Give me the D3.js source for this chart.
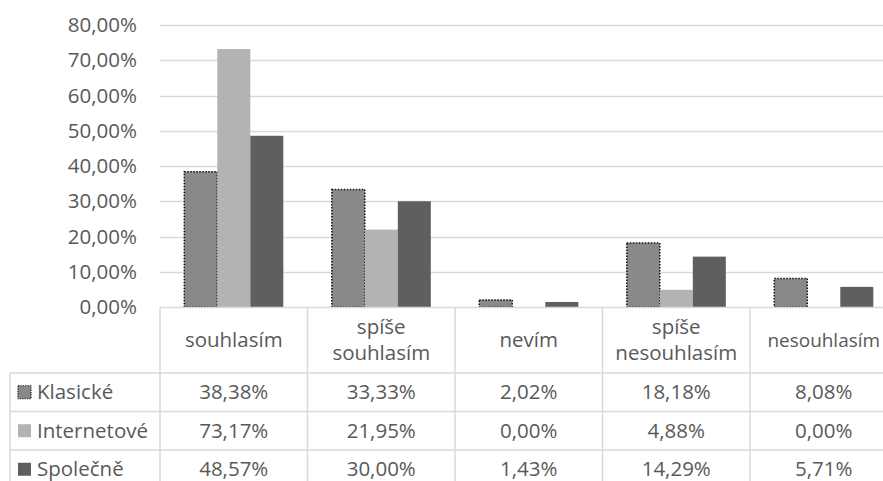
<!DOCTYPE html>
<html>
<head>
<meta charset="utf-8">
<script src="https://cdn.jsdelivr.net/npm/d3@7/dist/d3.min.js"></script>
<style>
  html, body { margin: 0; padding: 0; background: #fff; }
  svg { display: block; }
  text { font-family: "Open Sans", sans-serif; fill: #595959; }
</style>
</head>
<body>
<svg id="chart" width="883" height="481"></svg>
<script>
// Answer categories (two-line ones split with "\n")
const categories = ["souhlasím", "spíše\nsouhlasím", "nevím", "spíše\nnesouhlasím", "nesouhlasím"];
// Series names
const seriesNames = ["Klasické", "Internetové", "Společně"];
// Series values in percent
const klasicke = [38.38, 33.33, 2.02, 18.18, 8.08];
const internetove = [73.17, 21.95, 0.00, 4.88, 0.00];
const spolecne = [48.57, 30.00, 1.43, 14.29, 5.71];
// Y axis ticks in percent
const yTicks = [0, 10, 20, 30, 40, 50, 60, 70, 80];

const seriesValues = [klasicke, internetove, spolecne];
const seriesColors = ["#898989", "#b3b3b3", "#5f5f5f"];

const cz = d3.formatLocale({ decimal: ",", thousands: "\u00a0", grouping: [3], currency: ["", " Kč"] });
const pct = v => cz.format(".2%")(v / 100);

const W = 883;
const svg = d3.select("#chart");
const plotLeft = 160, plotRight = 897.5, plotTop = 25, plotBottom = 307;
const tableLeft = 10;
const rowLines = [373, 411.5, 450, 488.5];
const fs = 20.5;
const font = "'Open Sans', sans-serif";

const x = d3.scaleBand().domain(categories).range([plotLeft, plotRight]);
// three adjacent bars centred in each category band
const xs = d3.scaleBand().domain(seriesNames).range([24.3, 24.3 + 99]);

const y = d3.scaleLinear().domain([0, 80]).range([plotBottom, plotTop]);

// gridlines
svg.append("g").selectAll("line").data(yTicks.filter(t => t > 0)).join("line")
  .attr("x1", plotLeft).attr("x2", W)
  .attr("y1", d => Math.round(y(d)) + 0.5).attr("y2", d => Math.round(y(d)) + 0.5)
  .attr("stroke", "#d9d9d9").attr("stroke-width", 1.5);

// y axis labels
const yAxis = d3.axisLeft(y).tickValues(yTicks).tickFormat(pct).tickSize(0).tickPadding(0);
const gy = svg.append("g").attr("transform", "translate(137,0)").call(yAxis);
gy.select(".domain").remove();
gy.selectAll("text").attr("font-size", fs).attr("fill", "#595959")
  .attr("font-family", font);

// bars
const bars = svg.append("g");
seriesValues.forEach((vals, si) => {
  bars.append("g").selectAll("rect").data(vals.map((v, i) => ({ v, c: categories[i] }))).join("rect")
    .attr("x", d => x(d.c) + xs(seriesNames[si]))
    .attr("width", xs.bandwidth())
    .attr("y", d => y(d.v))
    .attr("height", d => plotBottom - y(d.v))
    .attr("fill", seriesColors[si])
    .attr("stroke", si === 0 ? "#111" : "none")
    .attr("stroke-width", si === 0 ? 1.5 : 0)
    .attr("stroke-dasharray", si === 0 ? "1.5,1.5" : null)
    .style("display", d => d.v > 0 ? null : "none");
});

// data table lines
const tbl = svg.append("g").attr("stroke", "#d9d9d9").attr("stroke-width", 1.5);
tbl.append("line").attr("x1", plotLeft).attr("x2", W).attr("y1", plotBottom + 0.5).attr("y2", plotBottom + 0.5);
rowLines.forEach(r => tbl.append("line").attr("x1", tableLeft).attr("x2", W).attr("y1", r).attr("y2", r));
tbl.append("line").attr("x1", tableLeft).attr("x2", tableLeft).attr("y1", rowLines[0]).attr("y2", 481);
categories.forEach(c => {
  tbl.append("line").attr("x1", x(c)).attr("x2", x(c)).attr("y1", plotBottom).attr("y2", 481);
});

// category headers
const hdr = svg.append("g");
categories.forEach(c => {
  const lines = c.split("\n");
  const cx = x(c) + x.bandwidth() / 2;
  const cy = (plotBottom + rowLines[0]) / 2;
  const lh = 26;
  lines.forEach((l, i) => {
    const t = hdr.append("text").attr("text-anchor", "middle").attr("font-size", fs)
      .attr("x", cx)
      .attr("y", cy + (i - (lines.length - 1) / 2) * lh)
      .attr("dy", "0.35em").text(l);
    // shrink a header that would run past the right edge
    const w = t.node().getComputedTextLength();
    const room = 2 * (W - 3 - cx);
    if (w > room) t.attr("font-size", fs * room / w);
  });
});

// table rows: legend keys, names and values
seriesNames.forEach((name, si) => {
  const r0 = rowLines[si], r1 = rowLines[si + 1];
  const cy = (r0 + r1) / 2;
  svg.append("rect")
    .attr("x", 18).attr("y", cy - 6.5).attr("width", 13).attr("height", 13)
    .attr("fill", seriesColors[si])
    .attr("stroke", si === 0 ? "#111" : "none")
    .attr("stroke-width", si === 0 ? 1.2 : 0)
    .attr("stroke-dasharray", si === 0 ? "1.2,1.2" : null);
  svg.append("text").attr("x", 37).attr("y", cy).attr("dy", "0.35em")
    .attr("font-size", fs).text(name);
  svg.append("g").selectAll("text").data(seriesValues[si]).join("text")
    .attr("x", (d, i) => x(categories[i]) + x.bandwidth() / 2)
    .attr("y", cy).attr("dy", "0.35em")
    .attr("text-anchor", "middle").attr("font-size", fs)
    .text(d => pct(d));
});
</script>
</body>
</html>
